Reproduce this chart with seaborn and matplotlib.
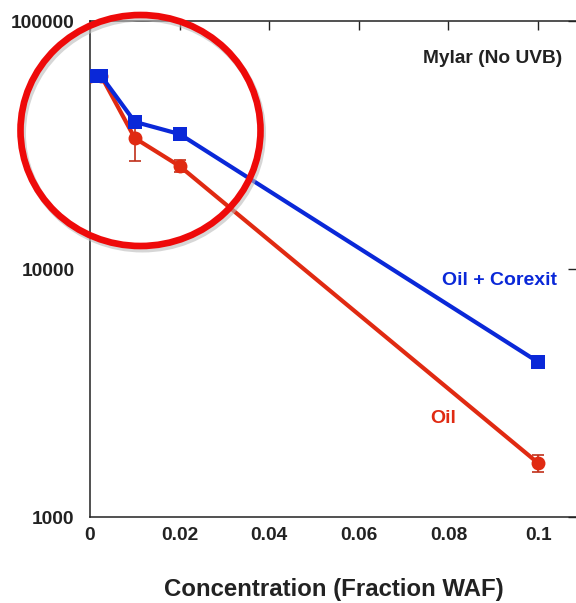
import numpy as np
import pandas as pd
import matplotlib
matplotlib.use("Agg")
import matplotlib.pyplot as plt
from matplotlib.patches import Ellipse
import seaborn as sns

# Concentration (fraction of water-accommodated fraction)
conc = [0.0, 0.0025, 0.01, 0.02, 0.1]
# Response values for each treatment
oil_values = [60000, 60000, 33700, 26000, 1650]
oil_errors = [0, 0, 6500, 1500, 125]
corexit_values = [60000, 60000, 39200, 35000, 4220]

x_ticks = [0, 0.02, 0.04, 0.06, 0.08, 0.1]
x_tick_labels = ["0", "0.02", "0.04", "0.06", "0.08", "0.1"]
y_ticks = [1000, 10000, 100000]
y_tick_labels = ["1000", "10000", "100000"]

RED = "#e02a12"
BLUE = "#0a28d8"
INK = "#222222"

sns.set_style("white")
plt.rcParams["font.family"] = ["Liberation Sans", "DejaVu Sans"]
plt.rcParams["font.weight"] = "bold"

df = pd.DataFrame({
    "conc": conc * 2,
    "value": oil_values + corexit_values,
    "series": ["Oil"] * len(conc) + ["Oil + Corexit"] * len(conc),
})

fig = plt.figure(figsize=(5.76, 6.03), dpi=100)
ax = fig.add_axes([90 / 576, 1 - 517 / 603, 487.5 / 576, (517 - 21) / 603])

sns.lineplot(data=df[df.series == "Oil"], x="conc", y="value", ax=ax,
             color=RED, lw=3, marker="o", markersize=10, markeredgewidth=0,
             zorder=3, legend=False)
ax.errorbar(conc, oil_values, yerr=oil_errors, fmt="none", ecolor="#c0301a",
            elinewidth=1.2, capsize=4, capthick=1.2, zorder=2)
sns.lineplot(data=df[df.series == "Oil + Corexit"], x="conc", y="value", ax=ax,
             color=BLUE, lw=3, marker="s", markersize=10, markeredgewidth=0,
             zorder=4, legend=False)

ax.set_yscale("log")
ax.set_ylim(1000, 100000)
ax.set_xlim(0, 0.1088)
ax.set_xticks(x_ticks)
ax.set_xticklabels(x_tick_labels)
ax.set_yticks(y_ticks)
ax.set_yticklabels(y_tick_labels)
ax.yaxis.set_minor_locator(matplotlib.ticker.NullLocator())

ax.tick_params(axis="both", direction="in", length=6.5, width=1, color=INK,
               labelsize=13.8, labelcolor=INK)
ax.tick_params(axis="x", top=True, pad=7)
ax.tick_params(axis="y", right=True, pad=11)
for lab in ax.get_xticklabels() + ax.get_yticklabels():
    lab.set_fontweight("bold")
for side in ["left", "bottom", "top", "right"]:
    ax.spines[side].set_visible(True)
    ax.spines[side].set_color(INK)
    ax.spines[side].set_linewidth(1.1)

ax.set_xlabel("Concentration (Fraction WAF)", fontsize=17.3, fontweight="bold",
              color=INK, labelpad=25)
ax.set_ylabel("")

ax.text(0.0898, 70300, "Mylar (No UVB)", fontsize=13.8, fontweight="bold",
        color=INK, ha="center", va="center")
ax.text(0.0913, 9000, "Oil + Corexit", fontsize=14, fontweight="bold",
        color=BLUE, ha="center", va="center")
ax.text(0.0788, 2500, "Oil", fontsize=14, fontweight="bold",
        color=RED, ha="center", va="center")

# Highlight ring around the low-concentration region
cx, cy, w, h = 140.5 / 576, 1 - 130.5 / 603, 240 / 576, 231 / 603
fig.add_artist(Ellipse((cx + 2 / 576, cy - 3 / 603), w, h,
                       transform=fig.transFigure, fill=False,
                       ec="#bbbbbb", lw=5, alpha=0.6, zorder=9))
fig.add_artist(Ellipse((cx, cy), w, h, transform=fig.transFigure,
                       fill=False, ec="#ee0a0a", lw=4.8, zorder=10))

fig.savefig("out.png", dpi=100)
